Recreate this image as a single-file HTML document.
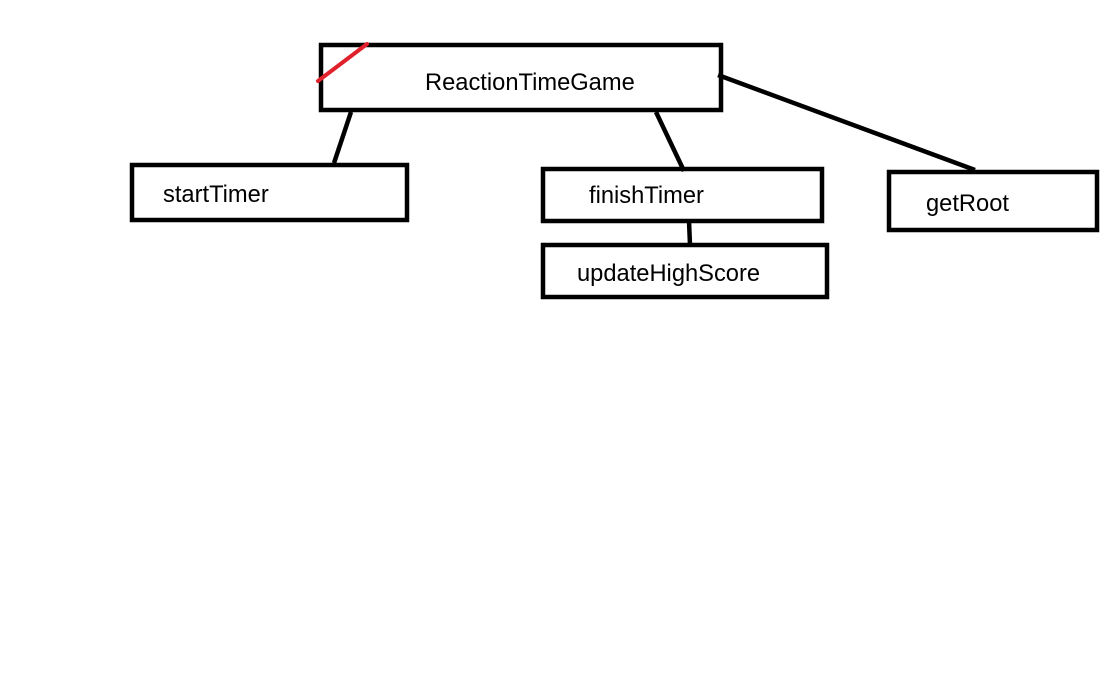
<!DOCTYPE html>
<html><head><style>
body{margin:0;width:1114px;height:683px;background:#fff;overflow:hidden}
</style></head><body>
<svg width="1114" height="683" xmlns="http://www.w3.org/2000/svg" font-family="Liberation Sans, sans-serif" font-size="23.7">
<g fill="none" stroke="#000" stroke-width="4.5">
<rect x="321" y="45" width="400" height="65"/>
<rect x="132" y="165" width="275" height="55"/>
<rect x="543" y="169" width="279" height="52"/>
<rect x="889" y="172" width="208" height="58"/>
<rect x="543" y="245" width="284" height="52"/>
<line x1="351" y1="112" x2="334" y2="163"/>
<line x1="656" y1="112" x2="684" y2="171"/>
<line x1="718" y1="75" x2="975" y2="170"/>
<line x1="689" y1="221" x2="690" y2="245"/>
</g>
<line x1="318" y1="81" x2="367" y2="44" stroke="#e0202a" stroke-width="4" stroke-linecap="round"/>
<text x="425" y="90">ReactionTimeGame</text>
<text x="163" y="202">startTimer</text>
<text x="589" y="203">finishTimer</text>
<text x="926" y="211">getRoot</text>
<text x="577" y="281">updateHighScore</text>
</svg>
</body></html>
